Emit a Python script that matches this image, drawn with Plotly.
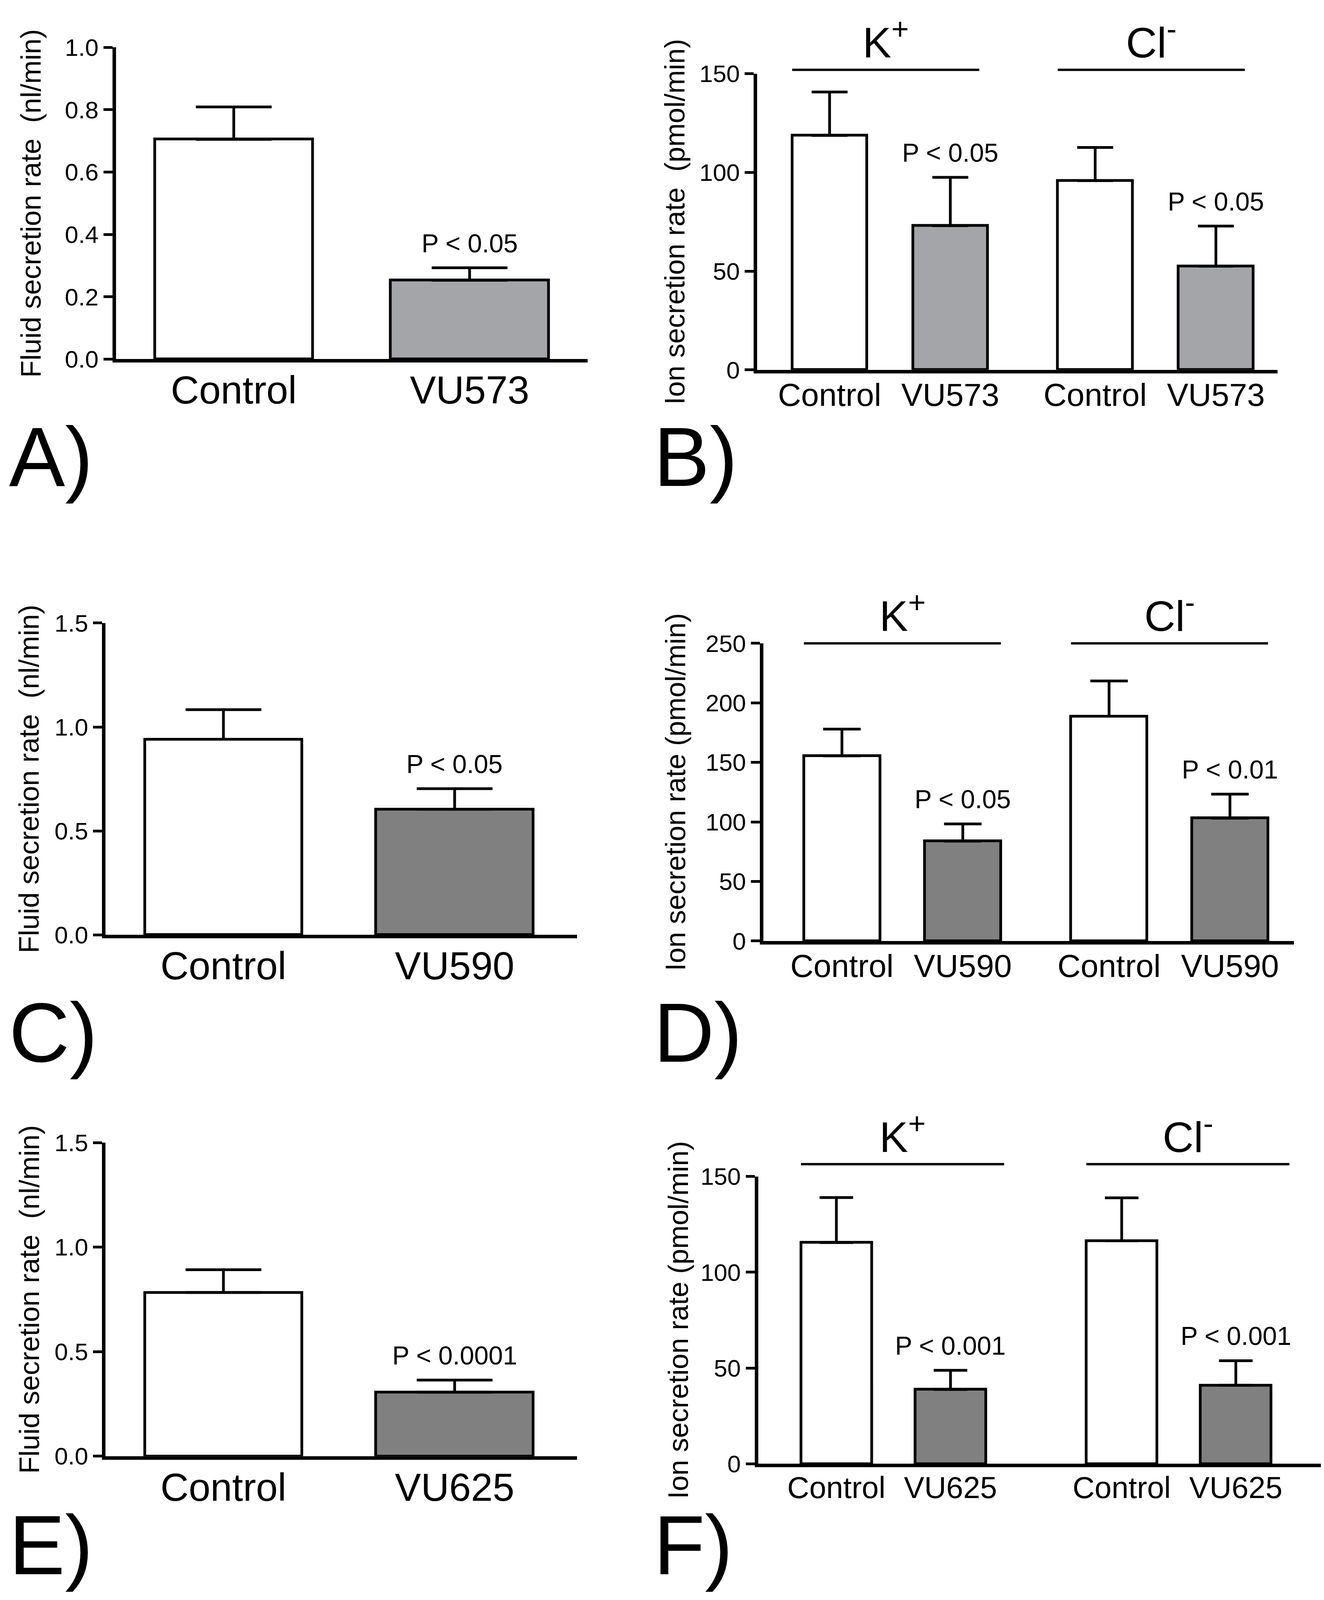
import plotly.graph_objects as go

# ---- data ----
fluid_groups = ["Control", "VU573"]
fluid_A = [0.705, 0.253]
fluid_A_sem = [0.104, 0.040]
fluid_A_p = ["", "P < 0.05"]

ion_groups_B = ["Control", "VU573", "Control", "VU573"]
ion_B = [118.7, 73.0, 95.8, 52.5]
ion_B_sem = [22.0, 24.5, 16.8, 20.3]
ion_B_p = ["", "P < 0.05", "", "P < 0.05"]

fluid_groups_C = ["Control", "VU590"]
fluid_C = [0.941, 0.604]
fluid_C_sem = [0.142, 0.099]
fluid_C_p = ["", "P < 0.05"]

ion_groups_D = ["Control", "VU590", "Control", "VU590"]
ion_D = [155.5, 83.9, 188.8, 103.2]
ion_D_sem = [22.5, 14.4, 29.6, 20.1]
ion_D_p = ["", "P < 0.05", "", "P < 0.01"]

fluid_groups_E = ["Control", "VU625"]
fluid_E = [0.783, 0.306]
fluid_E_sem = [0.109, 0.058]
fluid_E_p = ["", "P < 0.0001"]

ion_groups_F = ["Control", "VU625", "Control", "VU625"]
ion_F = [115.5, 38.8, 116.4, 41.0]
ion_F_sem = [23.5, 10.0, 22.4, 12.8]
ion_F_p = ["", "P < 0.001", "", "P < 0.001"]

ions = ["K<sup>+</sup>", "Cl<sup>-</sup>"]

W, H = 3389, 4175
REFW = 1280          # layout measured on a 1280-wide copy
SC = W / REFW
PAGE_MARGIN = 8      # default body margin of the html page
FONT = "Liberation Sans, Arial, sans-serif"

def fx(v):
    return (v * SC - PAGE_MARGIN) / W

def fy(v):
    return 1 - (v * SC - PAGE_MARGIN) / H

fig = go.Figure()

# one dict per panel: pixel box, bar positions, axis ranges, data
panels = [
    dict(name="A", xs=(112, 568), ys=(33.5, 340), pos=[0, 1], bw=0.67, xr=[-0.5, 1.5],
         ymax=1.0, dtick=0.2, fmt=".1f", vals=fluid_A, sem=fluid_A_sem, p=fluid_A_p,
         cats=fluid_groups, fill="#a4a5a8", cap=97, catsize=100,
         title="Fluid secretion rate\u00a0\u00a0(nl/min)", tx=30, letter=(8, 436)),
    dict(name="B", xs=(732, 1235), ys=(59.3, 350.5), pos=[0, 1, 2.2, 3.2], bw=0.62, xr=[-0.6, 3.71],
         ymax=150, dtick=50, fmt="d", vals=ion_B, sem=ion_B_sem, p=ion_B_p,
         cats=ion_groups_B, fill="#a4a5a8", cap=46, catsize=82,
         title="Ion secretion rate\u00a0\u00a0(pmol/min)", tx=652, letter=(631, 436),
         hline=55.5, hext=-0.07),
    dict(name="C", xs=(102, 558), ys=(599.4, 906), pos=[0, 1], bw=0.68, xr=[-0.51, 1.53],
         ymax=1.5, dtick=0.5, fmt=".1f", vals=fluid_C, sem=fluid_C_sem, p=fluid_C_p,
         cats=fluid_groups_C, fill="#808080", cap=97, catsize=100,
         title="Fluid secretion rate\u00a0\u00a0(nl/min)", tx=28, letter=(8, 1002)),
    dict(name="D", xs=(738, 1251), ys=(619.4, 912), pos=[0, 1, 2.21, 3.21], bw=0.63, xr=[-0.65, 3.74],
         ymax=250, dtick=50, fmt="d", vals=ion_D, sem=ion_D_sem, p=ion_D_p,
         cats=ion_groups_D, fill="#808080", cap=48, catsize=82,
         title="Ion secretion rate (pmol/min)", tx=653, letter=(631, 1002),
         hline=619.4, hext=0.0),
    dict(name="E", xs=(102, 558), ys=(1110.3, 1418.5), pos=[0, 1], bw=0.68, xr=[-0.51, 1.53],
         ymax=1.5, dtick=0.5, fmt=".1f", vals=fluid_E, sem=fluid_E_sem, p=fluid_E_p,
         cats=fluid_groups_E, fill="#808080", cap=97, catsize=100,
         title="Fluid secretion rate\u00a0\u00a0(nl/min)", tx=28, letter=(8, 1506)),
    dict(name="F", xs=(733, 1284), ys=(1143.5, 1426), pos=[0, 1, 2.5, 3.5], bw=0.62, xr=[-0.685, 4.3],
         ymax=150, dtick=50, fmt="d", vals=ion_F, sem=ion_F_sem, p=ion_F_p,
         cats=ion_groups_F, fill="#808080", cap=43, catsize=78,
         title="Ion secretion rate (pmol/min)", tx=656, letter=(631, 1506),
         hline=1131.4, hext=0.16),
]

annotations = []
shapes = []

for i, pn in enumerate(panels, start=1):
    xa = "x" if i == 1 else f"x{i}"
    ya = "y" if i == 1 else f"y{i}"
    n = len(pn["vals"])
    colors = ["white" if c == "Control" else pn["fill"] for c in pn["cats"]]
    fig.add_trace(go.Bar(
        x=pn["pos"], y=pn["vals"], width=pn["bw"],
        marker=dict(color=colors, line=dict(color="black", width=7)),
        error_y=dict(type="data", symmetric=False, array=pn["sem"], arrayminus=[0] * n,
                     color="black", thickness=7, width=pn["cap"]),
        xaxis=xa, yaxis=ya, showlegend=False,
    ))

    axis_x = dict(
        domain=[fx(pn["xs"][0]), min(1.0, fx(pn["xs"][1]))], range=pn["xr"], anchor=ya,
        showline=True, linecolor="black", linewidth=9, showgrid=False, zeroline=False,
        tickvals=pn["pos"], ticktext=pn["cats"], ticks="", tickangle=0,
        ticklabelstandoff=-15,
        tickfont=dict(family=FONT, size=pn["catsize"], color="black"),
    )
    axis_y = dict(
        domain=[fy(pn["ys"][1]), fy(pn["ys"][0])], range=[0, pn["ymax"]], anchor=xa,
        showline=True, linecolor="black", linewidth=9, showgrid=False, zeroline=False,
        dtick=pn["dtick"], tick0=0, tickformat=pn["fmt"], ticks="outside",
        ticklen=23, tickwidth=7, tickcolor="black",
        tickfont=dict(family=FONT, size=62, color="black"),
    )
    fig.update_layout({("xaxis" if i == 1 else f"xaxis{i}"): axis_x,
                       ("yaxis" if i == 1 else f"yaxis{i}"): axis_y})

    # p-values above the treated bars
    for xp, v, s, txt in zip(pn["pos"], pn["vals"], pn["sem"], pn["p"]):
        if txt:
            annotations.append(dict(
                x=xp, y=v + s, xref=xa, yref=ya, text=txt, showarrow=False,
                yanchor="middle", yshift=63, font=dict(family=FONT, size=66, color="black")))

    # y axis title
    annotations.append(dict(
        x=fx(pn["tx"]), y=fy((pn["ys"][0] + pn["ys"][1]) / 2), xref="paper", yref="paper",
        text=pn["title"], textangle=-90, showarrow=False, xanchor="center", yanchor="middle",
        font=dict(family=FONT, size=72, color="black")))

    # panel letter
    annotations.append(dict(
        x=fx(pn["letter"][0]), y=fy(pn["letter"][1]), xref="paper", yref="paper",
        text=pn["name"] + ")", showarrow=False, xanchor="left", yanchor="middle",
        font=dict(family=FONT, size=215, color="black")))

    # ion group headers
    if "hline" in pn:
        half = pn["bw"] / 2
        for g, ion in enumerate(ions):
            x0 = pn["pos"][2 * g] - half
            x1 = pn["pos"][2 * g + 1] + half + pn["hext"]
            shapes.append(dict(type="line", xref=xa, yref="paper", x0=x0, x1=x1,
                               y0=fy(pn["hline"]), y1=fy(pn["hline"]),
                               line=dict(color="black", width=6)))
            annotations.append(dict(
                x=(x0 + x1) / 2, y=fy(pn["hline"] - 30), xref=xa, yref="paper",
                text=ion, showarrow=False, xanchor="center", yanchor="middle",
                font=dict(family=FONT, size=110, color="black")))

fig.update_layout(
    width=W, height=H,
    margin=dict(l=0, r=0, t=0, b=0),
    paper_bgcolor="white", plot_bgcolor="white",
    annotations=annotations, shapes=shapes,
    bargap=0, showlegend=False,
)

fig.write_html("out.html")
